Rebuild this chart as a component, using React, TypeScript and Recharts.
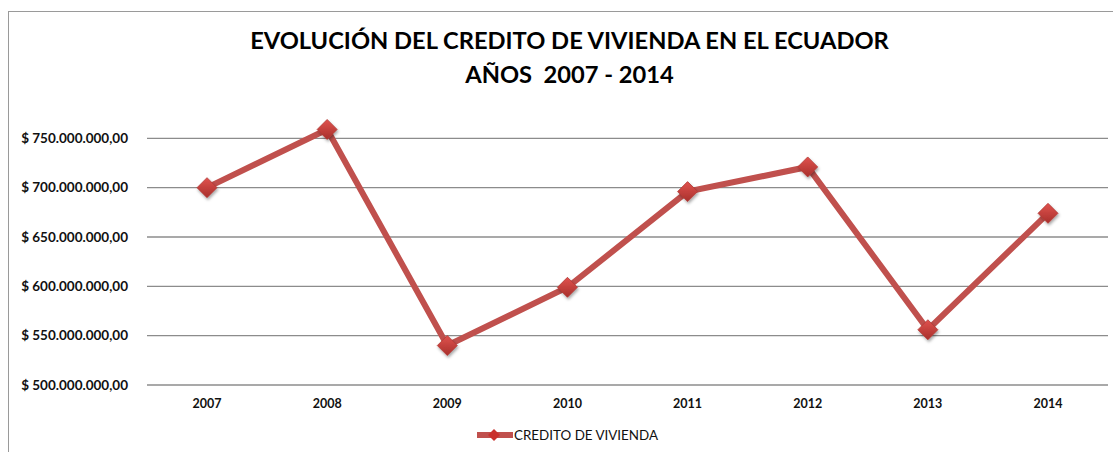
import React from "react"
import {
  LineChart,
  Line,
  XAxis,
  YAxis,
  CartesianGrid,
  Legend,
} from "recharts"

// Años y monto del crédito de vivienda (USD)
const years = ["2007", "2008", "2009", "2010", "2011", "2012", "2013", "2014"]
const credito = [700e6, 759e6, 540e6, 599e6, 696e6, 721e6, 556e6, 674e6]
const yTicks = [500e6, 550e6, 600e6, 650e6, 700e6, 750e6]

const SERIES_NAME = "CREDITO DE VIVIENDA"
const RED = "#C0504D"
const FONT = "Lato, 'Open Sans', sans-serif"

const data = years.map((year, i) => ({ year, credito: credito[i] }))

// $ 750.000.000,00
const formatMoney = (v: number) =>
  "$ " + Math.round(v).toString().replace(/\B(?=(\d{3})+(?!\d))/g, ".") + ",00"

const Diamond = (props: any) => {
  const { cx, cy, index } = props
  if (cx == null || cy == null) return null
  const r = 10
  return (
    <g key={`d-${index}`} filter="url(#dshadow)">
      <polygon
        points={`${cx},${cy - r} ${cx + r},${cy} ${cx},${cy + r} ${cx - r},${cy}`}
        fill="url(#dgrad)"
        stroke="#B23A36"
        strokeWidth={0.8}
      />
    </g>
  )
}

const LegendContent = () => (
  <div style={{ display: "flex", alignItems: "center", height: 20, fontFamily: FONT }}>
    <svg width={36} height={20}>
      <line x1={1} y1={10} x2={35} y2={10} stroke={RED} strokeWidth={6} strokeLinecap="round" />
      <polygon points="17,4 23,10 17,16 11,10" fill="#C9302C" />
    </svg>
    <span style={{ fontSize: 13.4, color: "#111", marginLeft: 1 }}>{SERIES_NAME}</span>
  </div>
)

export default function App() {
  return (
    <div style={{ position: "absolute", left: 0, top: 0, width: 1113, height: 452, background: "#fff" }}>
      <div
        style={{
          position: "absolute",
          left: 8,
          top: 11,
          width: 1105,
          height: 441,
          borderTop: "1.5px solid #9a9a9a",
          borderLeft: "1.5px solid #9a9a9a",
          boxSizing: "border-box",
        }}
      />
      <div
        style={{
          position: "absolute",
          left: 0,
          top: 23,
          width: 1139,
          textAlign: "center",
          fontFamily: FONT,
          fontWeight: 700,
          fontSize: 23.7,
          lineHeight: "34px",
          color: "#000",
        }}
      >
        <div>EVOLUCIÓN DEL CREDITO DE VIVIENDA EN EL ECUADOR</div>
        <div style={{ whiteSpace: "pre" }}>AÑOS  2007 - 2014</div>
      </div>
      <LineChart
        width={1113}
        height={452}
        data={data}
        margin={{ top: 89, right: 5, bottom: 17, left: 0 }}
        style={{ position: "absolute", left: 0, top: 0 }}
      >
        <defs>
          <linearGradient id="dgrad" x1="0" y1="0" x2="0" y2="1">
            <stop offset="0%" stopColor="#E0524E" />
            <stop offset="100%" stopColor="#A8302C" />
          </linearGradient>
          <filter id="dshadow" x="-50%" y="-50%" width="200%" height="200%">
            <feDropShadow dx="1" dy="2" stdDeviation="1.5" floodColor="#000" floodOpacity="0.35" />
          </filter>
        </defs>
        <CartesianGrid vertical={false} syncWithTicks stroke="#8c8c8c" strokeWidth={1.3} />
        <XAxis
          dataKey="year"
          axisLine={false}
          tickLine={false}
          tickSize={0}
          tickMargin={14}
          height={30}
          padding={{ left: 60, right: 60 }}
          tick={{ fontSize: 12.5, fontWeight: 700, fill: "#111", fontFamily: FONT }}
        />
        <YAxis
          domain={[500e6, 800e6]}
          ticks={yTicks}
          tickFormatter={formatMoney}
          axisLine={false}
          tickLine={false}
          tickSize={0}
          tickMargin={19}
          width={147}
          tick={{ fontSize: 13.5, fontWeight: 700, fill: "#111", fontFamily: FONT }}
        />
        <Legend
          verticalAlign="bottom"
          content={<LegendContent />}
          wrapperStyle={{ left: 477, bottom: 7, width: "auto" }}
        />
        <Line
          type="linear"
          dataKey="credito"
          name={SERIES_NAME}
          stroke={RED}
          strokeWidth={6}
          dot={<Diamond />}
          activeDot={false}
          isAnimationActive={false}
        />
      </LineChart>
    </div>
  )
}
